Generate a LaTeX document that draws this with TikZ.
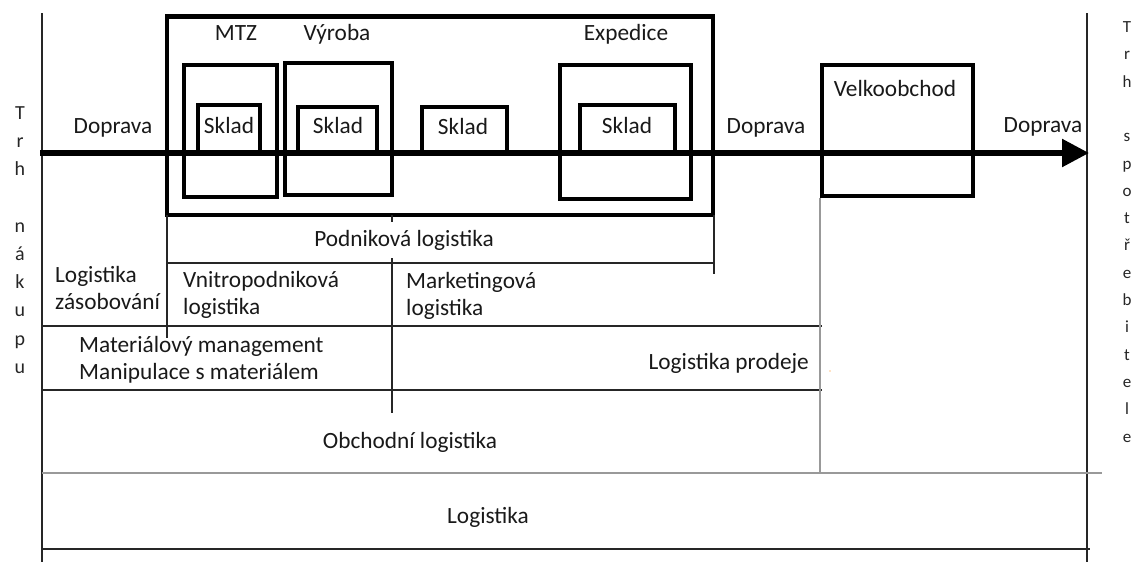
\documentclass[tikz,border=0pt]{standalone}
\usepackage{fontspec}
\setmainfont{Carlito}
\usetikzlibrary{arrows.meta}

\tikzset{
  lbl/.style={inner sep=0pt, text=black!90, font=\fontsize{23.3}{27}\selectfont},
  frame/.style={draw, line width=#1, inner sep=0pt, minimum width=0pt, minimum height=0pt},
  thinline/.style={line width=1.6pt, black!85},
  greyline/.style={line width=1.6pt, black!40},
  flow/.style={line width=5.5pt, -{Triangle[length=27pt,width=27pt]}},
  letters/.style={inner sep=0pt, align=center, text=black!85, anchor=base},
}

\begin{document}
\begin{tikzpicture}[x=1pt, y=-1pt]
\useasboundingbox (0,0) rectangle (1135,562);

% market borders
\coordinate (lt) at (42,13);
\coordinate (lb) at (42,562);
\coordinate (rt) at (1087,13);
\coordinate (rb) at (1087,562);
\draw[thinline] (lt) -- (lb);
\draw[thinline] (rt) -- (rb);

% company (Podniková logistika) frame
\node[frame=4.5pt, minimum width=546pt, minimum height=198.5pt] (plant) at (440,115.75) {};

% departments
\node[frame=3.6pt, minimum width=93pt, minimum height=132pt] (mtz) at (230.5,131) {};
\node[frame=4.2pt, minimum width=107pt, minimum height=132pt] (vyr) at (338.5,129) {};
\node[frame=3.8pt, minimum width=131pt, minimum height=134pt] (exp) at (625.5,132) {};
\node[frame=4.2pt, minimum width=151pt, minimum height=131pt] (vel) at (897.5,130.5) {};

% warehouses
\node[frame=3.6pt, minimum width=62pt, minimum height=48pt] (s1) at (229,129) {};
\node[frame=3.6pt, minimum width=79pt, minimum height=46pt] (s2) at (337.5,130) {};
\node[frame=3.6pt, minimum width=85pt, minimum height=46pt] (s3) at (464.5,130) {};
\node[frame=3.6pt, minimum width=95pt, minimum height=48pt] (s4) at (627.5,129) {};

% material flow
\coordinate (fs) at (40,153);
\coordinate (fe) at (1089,153);
\draw[flow] (fs) -- (fe);

% labels in the upper band
\node[lbl, anchor=base] (tmtz) at (236,40) {MTZ};
\node[lbl, anchor=base] (tvyr) at (337,40) {Výroba};
\node[lbl, anchor=base] (texp) at (626,40) {Expedice};
\node[lbl, anchor=base] (tvel) at (895,96) {Velkoobchod};
\node[lbl, anchor=base] (ts1) at (229,133) {Sklad};
\node[lbl, anchor=base] (ts2) at (338,133) {Sklad};
\node[lbl, anchor=base] (ts3) at (463,134) {Sklad};
\node[lbl, anchor=base] (ts4) at (627,133) {Sklad};
\node[lbl, anchor=base] (d1) at (113,133) {Doprava};
\node[lbl, anchor=base] (d2) at (766,133) {Doprava};
\node[lbl, anchor=base] (d3) at (1043,132) {Doprava};

% division lines below
\coordinate (pl1) at (167,263);
\coordinate (pr1) at (714,263);
\draw[thinline] (pl1) -- (pr1);
\coordinate (pr0) at (714,215);
\coordinate (pr2) at (714,274);
\draw[thinline] (pr0) -- (pr2);
\coordinate (pl0) at (167,215);
\coordinate (pl2) at (167,338);
\draw[thinline] (pl0) -- (pl2);
\coordinate (mk0) at (392,215);
\coordinate (mk1) at (392,222);
\coordinate (mk2) at (392,258);
\coordinate (mk3) at (392,413);
\draw[thinline] (mk0) -- (mk1);
\draw[thinline] (mk2) -- (mk3);

\coordinate (h1l) at (42,326);
\coordinate (h1r) at (822,326);
\coordinate (h2l) at (42,390);
\coordinate (h2r) at (822,390);
\draw[thinline] (h1l) -- (h1r);
\draw[thinline] (h2l) -- (h2r);

\coordinate (h3l) at (42,473);
\coordinate (h3r) at (1102,473);
\draw[greyline] (h3l) -- (h3r);
\draw[greyline] (vel.south west) -- (vel.south west |- h3l);

\coordinate (h4l) at (42,549);
\coordinate (h4r) at (1090,549);
\draw[thinline] (h4l) -- (h4r);

% small speck
\fill[orange!45] (830,371) circle (0.9pt);

% texts in the lower bands (anchor on the baseline of the last line)
\node[lbl, anchor=base] (podn) at (404,246) {Podniková logistika};
\node[lbl, anchor=base west, align=left] (zas) at (55,309) {Logistika\\zásobování};
\node[lbl, anchor=base west, align=left] (vnit) at (183,314) {Vnitropodniková\\logistika};
\node[lbl, anchor=base west, align=left] (mark) at (406,315) {Marketingová\\logistika};
\node[lbl, anchor=base west, align=left] (mat) at (79,379) {Materiálový management\\Manipulace s materiálem};
\node[lbl, anchor=base east] (prod) at (809,369) {Logistika prodeje};
\node[lbl, anchor=base] (obch) at (410,448) {Obchodní logistika};
\node[lbl, anchor=base] (logi) at (488,523) {Logistika};

% market names, one letter per line
\node[letters, font=\fontsize{20}{28.2}\selectfont] (nak) at (20,373.3)
  {T\\r\\h\\[28.2pt]n\\á\\k\\u\\p\\u};
\node[letters, font=\fontsize{17}{27.3}\selectfont] (spo) at (1127,442)
  {T\\r\\h\\[27.3pt]s\\p\\o\\t\\ř\\e\\b\\i\\t\\e\\l\\e};
\end{tikzpicture}
\end{document}
